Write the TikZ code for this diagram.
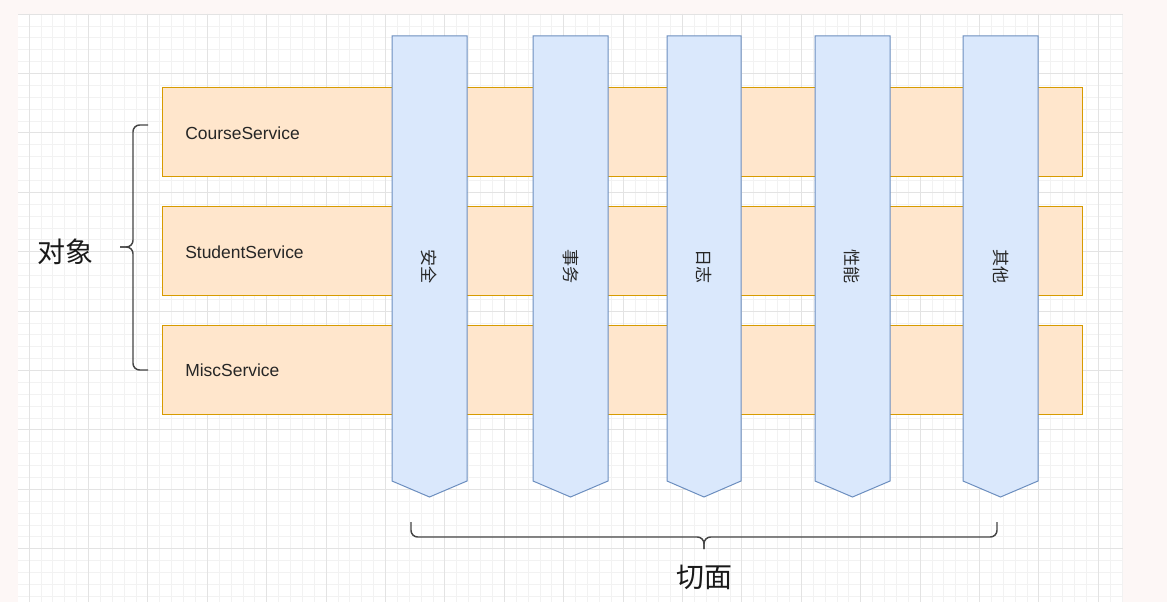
\documentclass[tikz,border=0pt]{standalone}
\usepackage{fontspec}
\setmainfont{Liberation Sans}
\newfontfamily\cjk{Noto Sans CJK SC}
\definecolor{pagebg}{HTML}{FDF7F6}
\definecolor{gridminor}{HTML}{F2F2F2}
\definecolor{gridmajor}{HTML}{E3E3E3}
\definecolor{orfill}{HTML}{FFE6CC}
\definecolor{ordraw}{HTML}{D79B00}
\definecolor{blfill}{HTML}{DAE8FC}
\definecolor{bldraw}{HTML}{6C8EBF}
\definecolor{bracecol}{HTML}{444444}
\tikzset{
  orangebox/.style={draw=ordraw, fill=orfill, line width=0.75pt, minimum width=690pt, minimum height=66.75pt, inner sep=0pt},
  svclabel/.style={anchor=west, inner sep=0pt, font=\fontsize{13.1pt}{15pt}\selectfont, text=black!85},
  aspect/.style={draw=bldraw, fill=blfill, line width=0.75pt, line join=miter},
  aspectlabel/.style={rotate=-90, inner sep=0pt, font=\cjk\fontsize{12.8pt}{14pt}\selectfont, text=black!85},
  bracepath/.style={draw=bracecol, line width=1.1pt, rounded corners=5pt},
  bigcjk/.style={inner sep=0pt, font=\cjk\fontsize{21pt}{24pt}\selectfont, text=black!90}
}
\begin{document}
\begin{tikzpicture}[x=0.75pt,y=-0.75pt]
\useasboundingbox (0,0) rectangle (1167,602);
\fill[pagebg] (0,0) rectangle (1167,602);
\fill[white] (18,14) rectangle (1123,602);
% grid
\foreach \i in {0,...,92}{
  \draw[gridminor, line width=0.5pt] ({29+\i*11.88},14) -- ({29+\i*11.88},602);
}
\foreach \j in {1,...,49}{
  \draw[gridminor, line width=0.5pt] (18,{14+\j*11.88}) -- (1123,{14+\j*11.88});
}
\foreach \i in {0,...,18}{
  \draw[gridmajor, line width=0.6pt] ({29+\i*59.4},14) -- ({29+\i*59.4},602);
}
\foreach \j in {0,...,9}{
  \draw[gridmajor, line width=0.6pt] (18,{14+\j*59.4}) -- (1123,{14+\j*59.4});
}
% service rows
\node[orangebox] (r1) at (622,132.5) {};
\node[orangebox] (r2) at (622,251.5) {};
\node[orangebox] (r3) at (622,370) {};
\node[svclabel] (t1) at (185,133) {CourseService};
\node[svclabel] (t2) at (185,252) {StudentService};
\node[svclabel] (t3) at (185,370.5) {MiscService};
% aspects
\foreach \xl/\xr/\nm in {392/467/a1, 533/608/a2, 667/741/a3, 815/890/a4, 963/1038/a5}{
  \path[aspect] (\xl,36) -- (\xr,36) -- (\xr,481) -- ({(\xl+\xr)/2},497) -- (\xl,481) -- cycle;
  \coordinate (\nm) at ({(\xl+\xr)/2},267);
}
\node[aspectlabel] (l1) at (a1) {安全};
\node[aspectlabel] (l2) at (a2) {事务};
\node[aspectlabel] (l3) at (a3) {日志};
\node[aspectlabel] (l4) at (a4) {性能};
\node[aspectlabel] (l5) at (a5) {其他};
% left brace
\coordinate (lbt) at (148,125);
\coordinate (lbm) at (120,247);
\coordinate (lbb) at (148,370);
\draw[bracepath] (lbt) -- (133,125) -- (133,247) -- (lbm);
\draw[bracepath] (lbm) -- (133,247) -- (133,370) -- (lbb);
\node[bigcjk] (obj) at (65,252) {对象};
% bottom brace
\coordinate (bbl) at (411,522);
\coordinate (bbm) at (704,549);
\coordinate (bbr) at (997,522);
\draw[bracepath] (bbl) -- (411,537) -- (704,537) -- (bbm);
\draw[bracepath] (bbm) -- (704,537) -- (997,537) -- (bbr);
\node[bigcjk] (asp) at (704,577) {切面};
\end{tikzpicture}
\end{document}
